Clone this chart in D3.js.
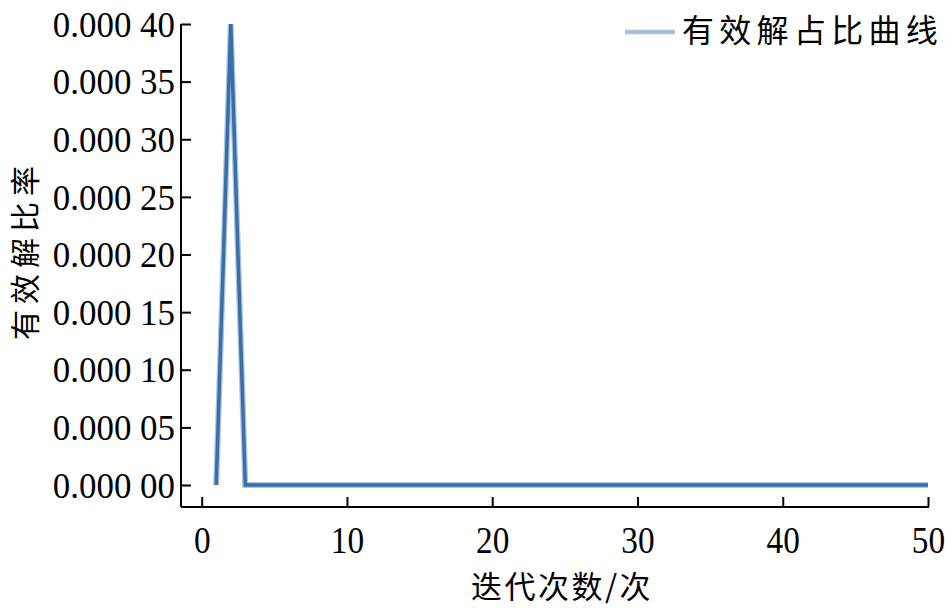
<!DOCTYPE html>
<html><head><meta charset="utf-8">
<script src="https://cdn.jsdelivr.net/npm/d3@7"></script>
<style>body{margin:0;background:#fff}</style>
</head><body>
<svg id="c" width="945" height="608"></svg>
<script>
const iterations = d3.range(1, 51);
const ratioValues = [0, 0.0004, 0, 0, 0, 0, 0, 0, 0, 0,
  0, 0, 0, 0, 0, 0, 0, 0, 0, 0,
  0, 0, 0, 0, 0, 0, 0, 0, 0, 0,
  0, 0, 0, 0, 0, 0, 0, 0, 0, 0,
  0, 0, 0, 0, 0, 0, 0, 0, 0, 0];
const yTicks = [0, 0.00005, 0.0001, 0.00015, 0.0002, 0.00025, 0.0003, 0.00035, 0.0004];
const yTickLabels = ["0.000 00","0.000 05","0.000 10","0.000 15","0.000 20","0.000 25","0.000 30","0.000 35","0.000 40"];
const xTicks = [0, 10, 20, 30, 40, 50];
const seriesName = "有效解占比曲线";
const xTitle = "迭代次数/次";
const yTitle = "有效解比率";

const svg = d3.select("#c");
const x = d3.scaleLinear().domain([0, 50]).range([201.7, 928]);
const y = d3.scaleLinear().domain([0, 0.0004]).range([485, 24]);
const axisX = 181, axisY = 507;
const serif = "'Liberation Serif','Times New Roman',serif";
const cjk = "'Noto Sans CJK SC','Noto Sans CJK JP',sans-serif";

// y axis
const gy = svg.append("g").attr("transform", `translate(${axisX},0)`)
  .call(d3.axisLeft(y).tickValues(yTicks).tickSizeInner(-10).tickSizeOuter(0).tickPadding(6)
    .tickFormat((d,i) => yTickLabels[i]));
gy.select(".domain").attr("d", `M0,${y(0.0004)}V${axisY}`).attr("stroke", "#000").attr("stroke-width", 2);
gy.selectAll(".tick line").attr("stroke", "#000").attr("stroke-width", 2);
gy.selectAll(".tick text").attr("font-family", serif).attr("font-size", 36).attr("fill", "#000")
  .attr("x", 0).attr("transform", "translate(-6,0) scale(0.97,1)").attr("dy", "0.34em");

// x axis
const gx = svg.append("g").attr("transform", `translate(0,${axisY})`)
  .call(d3.axisBottom(x).tickValues(xTicks).tickSizeInner(-10).tickSizeOuter(0).tickPadding(0)
    .tickFormat(d3.format("d")));
gx.select(".domain").attr("d", `M${axisX},0H${x(50)+1}`).attr("stroke", "#000").attr("stroke-width", 2);
gx.selectAll(".tick line").attr("stroke", "#000").attr("stroke-width", 2);
gx.selectAll(".tick text").attr("font-family", serif).attr("font-size", 37).attr("fill", "#000")
  .attr("y", 0).attr("dy", 0).attr("transform", "translate(0,46) scale(0.9,1)");

// line
const line = d3.line().x((d,i) => x(iterations[i])).y(d => y(d));
svg.append("path").datum(ratioValues).attr("d", line).attr("fill", "none")
  .attr("stroke", "#a9c4e2").attr("stroke-width", 6).attr("stroke-linejoin", "miter");
svg.append("path").datum(ratioValues).attr("d", line).attr("fill", "none")
  .attr("stroke", "#3b6ea8").attr("stroke-width", 3.5).attr("stroke-linejoin", "miter");

// legend
svg.append("line").attr("x1", 625).attr("x2", 675).attr("y1", 32).attr("y2", 32)
  .attr("stroke", "#a9bed8").attr("stroke-width", 4.5);
svg.append("text").attr("x", 682).attr("y", 42).attr("font-family", cjk).attr("font-size", 32)
  .attr("letter-spacing", 5.3).attr("fill", "#000").text(seriesName);

// axis titles
svg.append("text").attr("x", 562).attr("y", 598).attr("text-anchor", "middle")
  .attr("font-family", cjk).attr("font-size", 31).attr("letter-spacing", 2.5).attr("fill", "#000").text(xTitle);
svg.append("text").attr("transform", "translate(36,250) rotate(-90)").attr("text-anchor", "middle")
  .attr("font-family", cjk).attr("font-size", 30).attr("letter-spacing", 6).attr("fill", "#000").text(yTitle);
</script>
</body></html>
